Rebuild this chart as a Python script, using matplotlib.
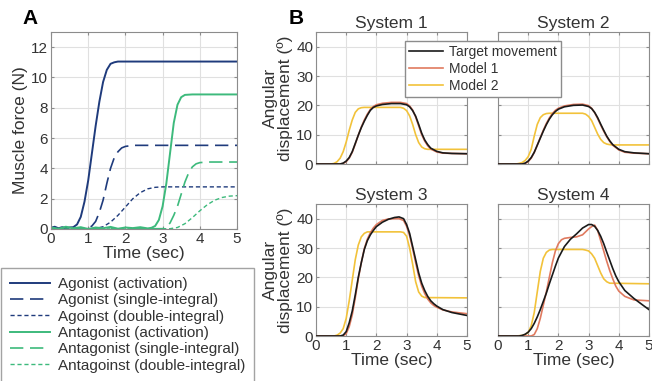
import matplotlib
matplotlib.use("Agg")
import matplotlib.pyplot as plt

plt.rcParams['font.family'] = ['Liberation Sans', 'DejaVu Sans']

# ---- panel A data (muscle force, N) ----
ago_act_t = [0, 0.1, 0.2, 0.3, 0.4, 0.5, 0.6, 0.7, 0.8, 0.9, 1.0, 1.1, 1.2, 1.3, 1.4, 1.5, 1.6, 1.7, 1.8, 5.0]
ago_act_f = [0.08, 0.15, 0.05, 0.12, 0.06, 0.1, 0.12, 0.3, 0.8, 1.8, 3.2, 5.0, 6.8, 8.4, 9.7, 10.5, 10.9, 11.0, 11.05, 11.05]
ago_single_t = [0, 1.0, 1.1, 1.2, 1.3, 1.4, 1.5, 1.6, 1.7, 1.8, 1.9, 2.0, 2.2, 5.0]
ago_single_f = [0, 0.05, 0.2, 0.5, 1.1, 1.9, 3.0, 4.0, 4.7, 5.1, 5.35, 5.45, 5.52, 5.52]
ago_double_t = [0, 1.2, 1.4, 1.6, 1.8, 2.0, 2.2, 2.4, 2.6, 2.8, 3.0, 5.0]
ago_double_f = [0, 0.03, 0.15, 0.45, 0.9, 1.45, 2.0, 2.4, 2.65, 2.75, 2.78, 2.78]
ant_act_t = [0, 0.2, 0.4, 0.6, 0.8, 1.0, 1.2, 1.4, 1.6, 1.8, 2.0, 2.2, 2.4, 2.6, 2.7, 2.8, 2.9, 3.0, 3.1, 3.2, 3.3, 3.4, 3.5, 3.6, 3.8, 5.0]
ant_act_f = [0.1, 0.02, 0.15, 0.05, 0.12, 0.0, 0.1, 0.05, 0.14, 0.02, 0.1, 0.06, 0.12, 0.04, 0.08, 0.2, 0.6, 1.5, 3.0, 5.0, 7.0, 8.2, 8.7, 8.85, 8.88, 8.88]
ant_single_t = [0, 3.0, 3.1, 3.2, 3.3, 3.4, 3.5, 3.6, 3.7, 3.8, 3.9, 4.0, 4.2, 5.0]
ant_single_f = [0, 0.02, 0.1, 0.4, 0.9, 1.5, 2.3, 3.1, 3.7, 4.1, 4.3, 4.38, 4.42, 4.42]
ant_double_t = [0, 3.2, 3.4, 3.6, 3.8, 4.0, 4.2, 4.4, 4.6, 4.8, 5.0]
ant_double_f = [0, 0.02, 0.1, 0.35, 0.75, 1.2, 1.6, 1.9, 2.08, 2.17, 2.2]

# ---- panel B data (angular displacement, deg) ----
s1_tgt_t = [0, 0.8, 0.9, 1.0, 1.1, 1.2, 1.3, 1.4, 1.5, 1.6, 1.7, 1.8, 1.9, 2.0, 2.2, 2.5, 2.8, 3.0, 3.1, 3.2, 3.3, 3.4, 3.5, 3.6, 3.7, 3.8, 4.0, 4.2, 4.5, 5.0]
s1_tgt_y = [0, 0, 0.3, 1.0, 2.2, 4.2, 7.0, 9.8, 12.4, 14.6, 16.6, 18.3, 19.3, 19.8, 20.3, 20.6, 20.6, 20.2, 19.5, 18.2, 16.3, 13.5, 10.5, 8.2, 6.6, 5.4, 4.3, 3.8, 3.6, 3.5]
s1_m1_t = [0, 0.8, 0.9, 1.0, 1.1, 1.2, 1.3, 1.4, 1.5, 1.6, 1.7, 1.8, 1.9, 2.0, 2.2, 2.5, 2.8, 3.0, 3.1, 3.2, 3.3, 3.4, 3.5, 3.6, 3.7, 3.8, 4.0, 4.2, 4.5, 5.0]
s1_m1_y = [0, 0, 0.2, 0.8, 2.0, 4.0, 6.8, 9.8, 12.6, 15.0, 17.0, 18.6, 19.6, 20.2, 20.7, 21.0, 21.0, 20.6, 19.8, 18.4, 16.0, 13.0, 10.0, 7.8, 6.2, 5.1, 4.1, 3.7, 3.6, 3.5]
s1_m2_t = [0, 0.5, 0.6, 0.7, 0.8, 0.9, 1.0, 1.1, 1.2, 1.3, 1.4, 1.5, 1.6, 2.8, 2.9, 3.0, 3.1, 3.2, 3.3, 3.4, 3.5, 3.6, 3.7, 5.0]
s1_m2_y = [0, 0, 0.2, 0.8, 2.0, 4.2, 7.5, 11.5, 15.0, 17.6, 18.8, 19.2, 19.3, 19.3, 19.0, 18.2, 16.4, 13.5, 10.0, 7.3, 5.8, 5.2, 5.0, 5.0]

s2_tgt_t = [0, 0.8, 0.9, 1.0, 1.1, 1.2, 1.3, 1.4, 1.5, 1.6, 1.7, 1.8, 1.9, 2.0, 2.2, 2.5, 2.8, 3.0, 3.1, 3.2, 3.3, 3.4, 3.5, 3.6, 3.7, 3.8, 4.0, 4.2, 4.5, 5.0]
s2_tgt_y = [0, 0, 0.3, 1.0, 2.2, 4.0, 6.4, 8.8, 11.2, 13.4, 15.3, 16.8, 17.9, 18.7, 19.5, 20.0, 20.1, 19.6, 18.9, 17.6, 15.8, 13.6, 11.5, 9.5, 7.9, 6.6, 5.0, 4.2, 3.8, 3.5]
s2_m1_t = [0, 0.8, 0.9, 1.0, 1.1, 1.2, 1.3, 1.4, 1.5, 1.6, 1.7, 1.8, 1.9, 2.0, 2.2, 2.5, 2.8, 3.0, 3.1, 3.2, 3.3, 3.4, 3.5, 3.6, 3.7, 3.8, 4.0, 4.2, 4.5, 5.0]
s2_m1_y = [0, 0, 0.2, 0.8, 2.0, 3.9, 6.4, 9.0, 11.5, 13.8, 15.7, 17.2, 18.3, 19.0, 19.8, 20.3, 20.4, 19.9, 19.0, 17.5, 15.5, 13.3, 11.2, 9.3, 7.7, 6.4, 4.8, 4.0, 3.7, 3.5]
s2_m2_t = [0, 0.6, 0.7, 0.8, 0.9, 1.0, 1.1, 1.2, 1.3, 1.4, 1.5, 1.6, 1.7, 2.8, 2.9, 3.0, 3.1, 3.2, 3.3, 3.4, 3.5, 3.6, 3.7, 3.8, 5.0]
s2_m2_y = [0, 0, 0.2, 0.5, 1.2, 2.5, 5.0, 9.5, 13.5, 15.8, 16.8, 17.2, 17.3, 17.3, 17.0, 16.2, 14.8, 12.5, 10.2, 8.4, 7.3, 6.8, 6.6, 6.5, 6.5]

s3_tgt_t = [0, 0.8, 0.9, 1.0, 1.1, 1.2, 1.3, 1.4, 1.5, 1.6, 1.7, 1.8, 1.9, 2.0, 2.2, 2.4, 2.6, 2.75, 2.9, 3.0, 3.1, 3.2, 3.3, 3.4, 3.5, 3.6, 3.7, 3.8, 3.9, 4.0, 4.2, 4.5, 5.0]
s3_tgt_y = [0, 0, 0.3, 1.5, 4.5, 8.5, 14.0, 20.0, 25.0, 29.5, 32.5, 34.5, 36.0, 37.3, 38.8, 39.8, 40.4, 40.6, 40.0, 38.0, 35.0, 30.5, 26.0, 21.5, 18.0, 15.5, 13.5, 12.0, 11.0, 10.2, 9.0, 8.0, 7.0]
s3_m1_t = [0, 0.8, 0.9, 1.0, 1.1, 1.2, 1.3, 1.4, 1.5, 1.6, 1.7, 1.8, 1.9, 2.0, 2.2, 2.4, 2.6, 2.75, 2.9, 3.0, 3.1, 3.2, 3.3, 3.4, 3.5, 3.6, 3.7, 3.8, 3.9, 4.0, 4.2, 4.5, 5.0]
s3_m1_y = [0, 0, 0.1, 0.8, 3.2, 7.2, 13.0, 19.5, 25.0, 29.8, 33.0, 35.2, 36.8, 38.0, 39.4, 39.9, 40.0, 40.0, 39.4, 37.4, 34.2, 29.8, 25.0, 20.5, 17.0, 14.5, 12.6, 11.3, 10.4, 9.8, 8.9, 8.2, 7.6]
s3_m2_t = [0, 0.6, 0.7, 0.8, 0.9, 1.0, 1.1, 1.2, 1.3, 1.4, 1.5, 1.6, 1.7, 2.8, 2.9, 3.0, 3.1, 3.2, 3.3, 3.4, 3.5, 3.6, 5.0]
s3_m2_y = [0, 0, 0.3, 1.0, 2.5, 6.0, 12.0, 19.0, 26.0, 31.0, 33.8, 35.0, 35.5, 35.5, 35.3, 34.0, 30.0, 24.5, 18.5, 15.0, 13.6, 13.1, 13.0]

s4_tgt_t = [0, 0.7, 0.8, 0.9, 1.0, 1.1, 1.2, 1.3, 1.4, 1.5, 1.6, 1.7, 1.8, 1.9, 2.0, 2.2, 2.4, 2.6, 2.8, 3.0, 3.1, 3.2, 3.3, 3.4, 3.5, 3.6, 3.7, 3.8, 3.9, 4.0, 4.2, 4.5, 4.8, 5.0]
s4_tgt_y = [0, 0, 0.2, 0.6, 1.3, 2.5, 4.3, 6.5, 9.0, 11.8, 14.6, 17.8, 20.8, 23.8, 26.6, 30.5, 33.0, 34.8, 36.8, 38.0, 38.0, 37.4, 36.0, 34.0, 31.5, 28.6, 25.8, 23.0, 20.5, 18.5, 15.5, 12.8, 10.5, 9.0]
s4_m1_t = [0, 1.1, 1.2, 1.3, 1.4, 1.5, 1.6, 1.7, 1.8, 1.9, 2.0, 2.1, 2.2, 2.4, 2.6, 2.8, 2.9, 3.0, 3.1, 3.2, 3.3, 3.4, 3.5, 3.6, 3.7, 3.8, 3.9, 4.0, 4.2, 4.5, 5.0]
s4_m1_y = [0, 0, 0.5, 2.5, 6.0, 10.5, 15.0, 20.0, 25.0, 29.0, 31.5, 32.8, 33.3, 33.6, 33.8, 34.5, 35.5, 36.5, 37.3, 37.8, 36.0, 32.5, 29.0, 25.5, 22.3, 19.5, 17.0, 15.3, 13.5, 12.3, 12.0]
s4_m2_t = [0, 0.6, 0.8, 0.9, 1.0, 1.1, 1.2, 1.3, 1.4, 1.5, 1.6, 1.7, 1.8, 2.8, 2.9, 3.0, 3.1, 3.2, 3.3, 3.4, 3.5, 3.6, 3.7, 5.0]
s4_m2_y = [0, 0, 0.2, 0.5, 1.2, 3.5, 8.0, 15.0, 22.0, 26.5, 28.5, 29.3, 29.5, 29.5, 29.3, 29.0, 28.0, 26.5, 24.0, 21.5, 19.5, 18.5, 18.0, 17.8]

systems = ["System 1", "System 2", "System 3", "System 4"]
legend_a = ["Agonist (activation)", "Agonist (single-integral)", "Agoinst (double-integral)",
            "Antagonist (activation)", "Antagonist (single-integral)", "Antagoinst (double-integral)"]
legend_b = ["Target movement", "Model 1", "Model 2"]

navy = "#1f3b7c"
green = "#3dba7c"
c_tgt = "#1a1a1a"
c_m1 = "#e07a5f"
c_m2 = "#f2c23a"
txt = "#333333"
gridc = "#e0e0e0"
spine = "#8c8c8c"

W, H = 652, 381
fig = plt.figure(figsize=(W / 100, H / 100), dpi=100)


def box(l, r, t, b):
    return [l / W, 1 - b / H, (r - l) / W, (b - t) / H]


def style(ax, ymax, yticks):
    ax.set_xlim(0, 5)
    ax.set_ylim(0, ymax)
    ax.set_xticks(range(6))
    ax.set_yticks(yticks)
    ax.grid(True, color=gridc, linewidth=0.8)
    ax.set_axisbelow(True)
    for s in ax.spines.values():
        s.set_color(spine)
        s.set_linewidth(0.8)
    ax.tick_params(direction='in', length=2, colors=spine, labelcolor=txt,
                   labelsize=11, top=True, right=True, pad=2)


# panel A
axA = fig.add_axes(box(51, 237, 32, 229))
style(axA, 13, range(0, 13, 2))
axA.plot(ago_act_t, ago_act_f, color=navy, lw=1.4)
axA.plot(ago_single_t, ago_single_f, color=navy, lw=1.2, dashes=(8, 4))
axA.plot(ago_double_t, ago_double_f, color=navy, lw=1.0, dashes=(3, 2))
axA.plot(ant_act_t, ant_act_f, color=green, lw=1.4)
axA.plot(ant_single_t, ant_single_f, color=green, lw=1.2, dashes=(8, 4))
axA.plot(ant_double_t, ant_double_f, color=green, lw=1.0, dashes=(3, 2))
axA.set_xlabel("Time (sec)", fontsize=12.5, color=txt, labelpad=0)
axA.set_ylabel("Muscle force (N)", fontsize=12.5, color=txt, labelpad=2)
fig.legend(axA.lines, legend_a, loc='upper left', bbox_to_anchor=(1 / W, 1 - 268 / H),
           fontsize=11, frameon=True, fancybox=False, edgecolor=spine, borderaxespad=0,
           handlelength=2.6, labelspacing=0.15, borderpad=0.6, handletextpad=0.5,
           labelcolor=txt)

# panel B
boxes = [box(316, 467, 32, 164), box(498, 649, 32, 164),
         box(316, 467, 204, 336), box(498, 649, 204, 336)]
curves = [(s1_tgt_t, s1_tgt_y, s1_m1_t, s1_m1_y, s1_m2_t, s1_m2_y),
          (s2_tgt_t, s2_tgt_y, s2_m1_t, s2_m1_y, s2_m2_t, s2_m2_y),
          (s3_tgt_t, s3_tgt_y, s3_m1_t, s3_m1_y, s3_m2_t, s3_m2_y),
          (s4_tgt_t, s4_tgt_y, s4_m1_t, s4_m1_y, s4_m2_t, s4_m2_y)]
axes_b = []
for i in range(4):
    ax = fig.add_axes(boxes[i])
    style(ax, 45, range(0, 41, 10))
    tt, ty, m1t, m1y, m2t, m2y = curves[i]
    ax.plot(m2t, m2y, color=c_m2, lw=1.2, zorder=2)
    ax.plot(m1t, m1y, color=c_m1, lw=1.2, zorder=3)
    ax.plot(tt, ty, color=c_tgt, lw=1.2, zorder=4)
    ax.set_title(systems[i], fontsize=12.5, color=txt, pad=3)
    if i < 2:
        ax.set_xticklabels([])
    else:
        ax.set_xlabel("Time (sec)", fontsize=12.5, color=txt, labelpad=0)
    if i % 2 == 1:
        ax.set_yticklabels([])
    else:
        ax.set_ylabel("Angular\ndisplacement (º)", fontsize=12.5, color=txt,
                      labelpad=2, linespacing=1.0)
    axes_b.append(ax)

l0 = axes_b[0].lines
fig.legend([l0[2], l0[1], l0[0]], legend_b, loc='upper left',
           bbox_to_anchor=(405 / W, 1 - 41 / H),
           fontsize=10, frameon=True, fancybox=False, edgecolor=spine, framealpha=1,
           borderaxespad=0, handlelength=2.4, labelspacing=0.2, borderpad=0.3,
           handletextpad=0.45, labelcolor=txt)

fig.text(30 / W, 1 - 18 / H, "A", fontsize=15, fontweight='bold', va='center', ha='center')
fig.text(296 / W, 1 - 18 / H, "B", fontsize=15, fontweight='bold', va='center', ha='center')

fig.savefig("out.png", dpi=100)
